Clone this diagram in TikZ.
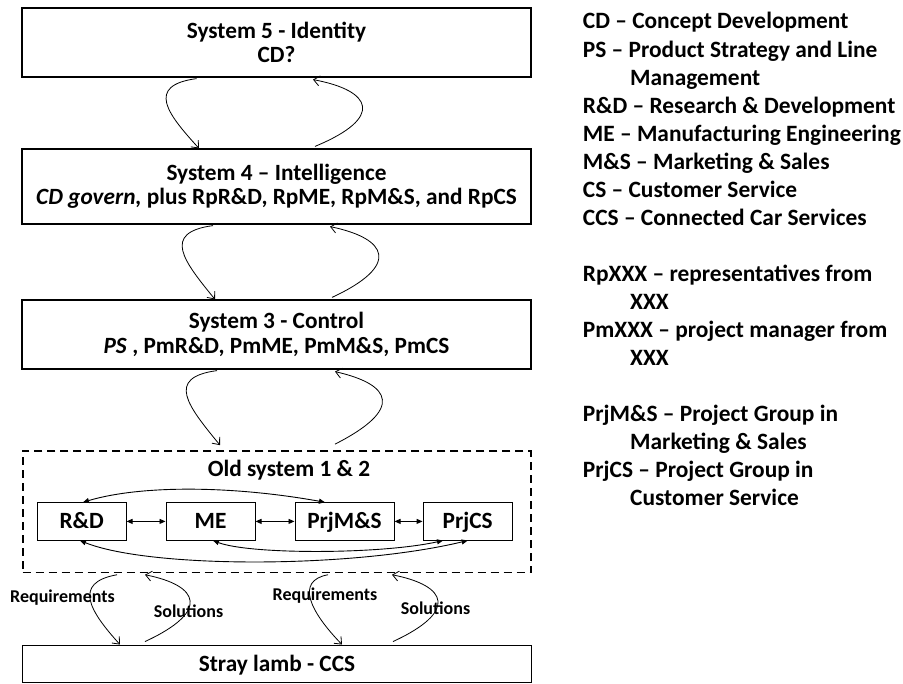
\documentclass[tikz,border=0pt]{standalone}
\usepackage{fontspec}
\setmainfont{Carlito}
\usetikzlibrary{arrows.meta,calc}
\begin{document}
\begin{tikzpicture}[x=1pt,y=-1pt,
  sysbox/.style={draw, line width=1.2pt, inner sep=0pt, align=center,
    minimum width=509pt, font=\fontsize{23.3}{24.5}\selectfont\bfseries},
  unitbox/.style={draw, line width=1pt, inner sep=0pt, minimum height=37.3pt,
    text height=15pt, text depth=0pt, font=\fontsize{23.3}{24}\selectfont\bfseries},
  groupbox/.style={draw, line width=1.6pt, dash pattern=on 8pt off 5pt,
    minimum width=508pt, minimum height=121.7pt, inner sep=0pt},
  title/.style={inner sep=0pt, font=\fontsize{23.3}{24}\selectfont\bfseries},
  flowlabel/.style={inner sep=0pt, font=\fontsize{18}{20}\selectfont\bfseries},
  legend/.style={inner sep=0pt, anchor=base west, font=\fontsize{23.4}{28}\selectfont\bfseries},
  loop/.style={line width=0.8pt, -{Straight Barb[length=6pt,width=10pt]}},
  link/.style={line width=0.9pt, {Triangle[length=6pt,width=5pt]}-{Triangle[length=6pt,width=5pt]}}
]
\useasboundingbox (0,0) rectangle (903,684);

% system boxes
\node[sysbox, minimum height=69pt] (s5) at (276.5,42.5) {System 5 - Identity\\CD?};
\node[sysbox, minimum height=75pt] (s4) at (276.5,186.5)
  {System 4 – Intelligence\\\textit{CD govern,} plus RpR\&D, RpME, RpM\&S, and RpCS};
\node[sysbox, minimum height=69pt] (s3) at (276.5,334.5)
  {System 3 - Control\\\textit{PS} , PmR\&D, PmME, PmM\&S, PmCS};

% old system 1 & 2
\node[groupbox] (old) at (276.7,511.8) {};
\node[title] (oldtitle) at (289,470) {Old system 1 \& 2};
\node[unitbox, minimum width=88.7pt] (rd) at (81.7,521.4) {R\&D};
\node[unitbox, minimum width=89pt] (me) at (210.5,521.4) {ME};
\node[unitbox, minimum width=99pt] (pms) at (344.5,521.4) {PrjM\&S};
\node[unitbox, minimum width=89.3pt] (pcs) at (467.7,521.4) {PrjCS};

\node[sysbox, minimum height=37.7pt, text height=15pt, text depth=0pt] (stray) at (277,664) {Stray lamb - CCS};

% links inside the old system
\draw[link] (rd) -- (me);
\draw[link] (me) -- (pms);
\draw[link] (pms) -- (pcs);
\draw[link] ($(rd.north)+(1.3,0)$) .. controls +(57,-17) and +(-95,-17) .. ($(pms.north)+(-19.5,0)$);
\draw[link] ($(me.south)+(2.5,0)$) .. controls +(37,14) and +(-63,14) .. ($(pcs.south)+(-24.7,0)$);
\draw[link] ($(rd.south)+(-1.7,0)$) .. controls +(70,28) and +(-117,28) .. (pcs.south);

% loops between the systems
\draw[loop] ($(s5.south)+(-80,1)$) .. controls +(-51.5,7) and +(-31,-34) .. ($(s4.north)+(-77.5,0)$);
\draw[loop] ($(s4.north)+(38.5,-2)$) .. controls +(70,-29) and +(59,11) .. ($(s5.south)+(36.5,2)$);
\draw[loop] ($(s4.south)+(-63.5,1)$) .. controls +(-52,7) and +(-31,-38) .. ($(s3.north)+(-61.5,0)$);
\draw[loop] ($(s3.north)+(55.5,-2)$) .. controls +(69,-32) and +(58,12) .. ($(s4.south)+(53.5,2)$);
\draw[loop] ($(s3.south)+(-59.5,1)$) .. controls +(-52,7) and +(-32,-39) .. ($(old.north)+(-56.7,-5)$);
\draw[loop] ($(old.north)+(58.3,-6)$) .. controls +(69,-35) and +(57,13) .. ($(s3.south)+(58.5,2)$);

% requirements and solutions
\draw[loop] ($(old.south)+(-159.7,1.3)$) .. controls +(-45,8) and +(-30,-33) .. ($(stray.north)+(-157,0)$);
\draw[loop] ($(stray.north)+(-132,-3)$) .. controls +(65,-30) and +(55,11) .. ($(old.south)+(-131.7,1.3)$);
\draw[loop] ($(old.south)+(51.3,1.3)$) .. controls +(-33,6) and +(-32,-33) .. ($(stray.north)+(65,0)$);
\draw[loop] ($(stray.north)+(116,-3)$) .. controls +(65,-30) and +(56,11) .. ($(old.south)+(115.3,1.3)$);

\node[flowlabel] (req1) at (62.5,598) {Requirements};
\node[flowlabel] (sol1) at (188.5,611.7) {Solutions};
\node[flowlabel] (req2) at (325,596) {Requirements};
\node[flowlabel] (sol2) at (435.5,608) {Solutions};

% legend
\node[legend] (lg1) at (582.7,29) {CD – Concept Development};
\node[legend] (lg2) at (582.7,57.04) {PS – Product Strategy and Line};
\node[legend] (lg3) at (630,85.08) {Management};
\node[legend] (lg4) at (582.7,113.12) {R\&D – Research \& Development};
\node[legend] (lg5) at (582.7,141.16) {ME – Manufacturing Engineering};
\node[legend] (lg6) at (582.7,169.2) {M\&S – Marketing \& Sales};
\node[legend] (lg7) at (582.7,197.24) {CS – Customer Service};
\node[legend] (lg8) at (582.7,225.28) {CCS – Connected Car Services};
\node[legend] (lg9) at (582.7,281.36) {RpXXX – representatives from};
\node[legend] (lg10) at (630,309.4) {XXX};
\node[legend] (lg11) at (582.7,337.44) {PmXXX – project manager from};
\node[legend] (lg12) at (630,365.48) {XXX};
\node[legend] (lg13) at (582.7,421.56) {PrjM\&S – Project Group in};
\node[legend] (lg14) at (630,449.6) {Marketing \& Sales};
\node[legend] (lg15) at (582.7,477.64) {PrjCS – Project Group in};
\node[legend] (lg16) at (630,505.68) {Customer Service};
\end{tikzpicture}
\end{document}
